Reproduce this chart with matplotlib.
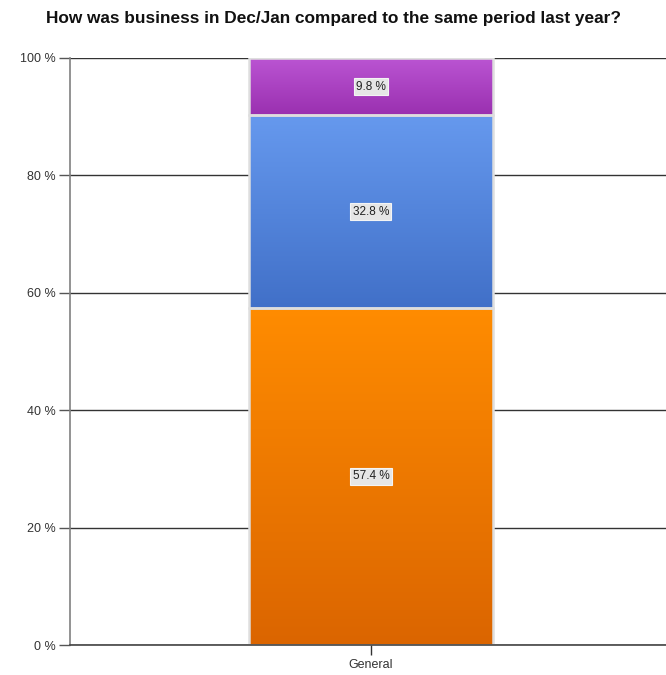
import matplotlib.pyplot as plt
import numpy as np
from matplotlib.colors import LinearSegmentedColormap

plt.rcParams['font.family'] = ['Liberation Sans', 'DejaVu Sans']

category = 'General'
values = [57.4, 32.8, 9.8]
labels = ['57.4 %', '32.8 %', '9.8 %']
# top and bottom colours of the gradient for each segment
top_colors = ['#ff8c00', '#6699ee', '#bb55d3']
bottom_colors = ['#db6500', '#4170c8', '#9a30b0']
yticks = [0, 20, 40, 60, 80, 100]

fig = plt.figure(figsize=(6.66, 6.75), dpi=100)
ax = fig.add_axes([0.105, 0.0444, 0.895, 0.870])

bar_w = 0.408
bottom = 0
for v, lab, ct, cb in zip(values, labels, top_colors, bottom_colors):
    bars = ax.bar(0, v, width=bar_w, bottom=bottom, color='none',
                  edgecolor='#dedede', linewidth=1.8, zorder=4)
    patch = bars[0]
    cmap = LinearSegmentedColormap.from_list('g', [cb, ct])
    grad = np.linspace(0, 1, 256).reshape(-1, 1)
    im = ax.imshow(grad, cmap=cmap, aspect='auto', origin='lower',
                   extent=[-bar_w / 2, bar_w / 2, bottom, bottom + v], zorder=3)
    im.set_clip_path(patch)
    ax.text(0, bottom + v / 2, lab, ha='center', va='center', fontsize=8.5,
            color='#222222', zorder=5,
            bbox=dict(boxstyle='square,pad=0.2', facecolor='#e6e6e6',
                      edgecolor='#f4f4f4', linewidth=0.8))
    bottom += v

ax.set_xlim(-0.505, 0.495)
ax.set_ylim(0, 100)
ax.set_yticks(yticks)
ax.set_yticklabels([f'{t} %' for t in yticks], fontsize=9, color='#333333')
ax.set_xticks([0])
ax.set_xticklabels([category], fontsize=9, color='#333333')
ax.tick_params(axis='y', length=8, width=1, color='#555555', pad=2)
ax.tick_params(axis='x', length=7, width=1, color='#333333', pad=3)

ax.yaxis.grid(True, color='#333333', linewidth=1)
ax.set_axisbelow(True)
for s in ['top', 'right']:
    ax.spines[s].set_visible(False)
ax.spines['left'].set_color('#808080')
ax.spines['left'].set_linewidth(1.2)
ax.spines['bottom'].set_color('#444444')
ax.spines['bottom'].set_linewidth(1.2)
ax.spines['bottom'].set_zorder(5)

fig.text(0.5, 0.972, 'How was business in Dec/Jan compared to the same period last year?',
         ha='center', va='center', fontsize=12.4, fontweight='bold', color='#111111')

fig.savefig('out.png', dpi=100)
